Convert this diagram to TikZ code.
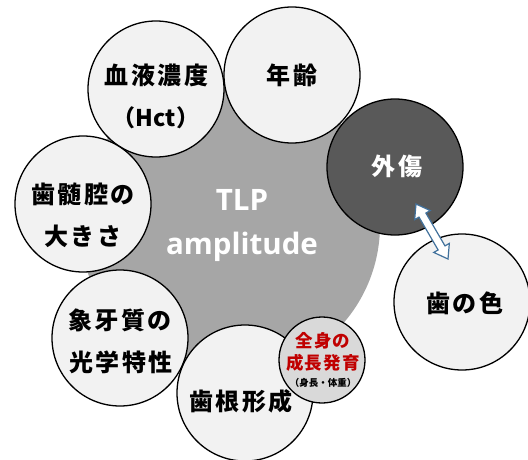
\documentclass[tikz,border=0pt]{standalone}
\usepackage{fontspec}
\usetikzlibrary{calc}
\newfontfamily\jp{Noto Sans CJK JP}[LetterSpace=10]
\newfontfamily\jps{Noto Sans CJK JP}[LetterSpace=6]
\newfontfamily\jpt{Noto Sans CJK JP}
\newfontfamily\lat{Open Sans}
\definecolor{light}{HTML}{F2F2F2}
\definecolor{tlpgray}{HTML}{A6A6A6}
\definecolor{dark}{HTML}{595959}
\definecolor{small}{HTML}{D9D9D9}
\definecolor{jred}{HTML}{C00000}
\definecolor{arrowblue}{HTML}{41719C}
\begin{document}
\begin{tikzpicture}[x=1pt,y=-1pt,
  bub/.style={circle, draw=black, line width=1.3pt, fill=light, minimum size=136pt, inner sep=0pt},
  jtext/.style={font=\jp\bfseries\fontsize{24}{24}\selectfont, inner sep=0pt, text=black},
  stext/.style={font=\jps\bfseries\fontsize{17.5}{17.5}\selectfont, inner sep=0pt, text=jred},
  ttext/.style={font=\lat\bfseries\fontsize{29.5}{29.5}\selectfont, inner sep=0pt, text=white, anchor=base}]
\useasboundingbox (0,0) rectangle (528,459);
% central circle
\node[circle, fill=tlpgray, minimum size=300pt, inner sep=0pt] (tlp) at (230,225) {};
\node[ttext] (tlp1) at (242,210) {TLP};
\node[ttext] (tlp2) at (242,254) {amplitude};
% surrounding circles
\node[bub] (ketsu) at (156,89) {};
\node[jtext] (ketsu1) at (156.5,75) {血液濃度};
\node[jtext, font=\jpt\bfseries\fontsize{23}{23}\selectfont] (ketsu2) at (156,118) {（Hct）};
\node[bub] (nen) at (292,75) {};
\node[jtext] (nen1) at (292,75) {年齢};
\node[bub] (zui) at (83,204) {};
\node[jtext] (zui1) at (83,194) {歯髄腔の};
\node[jtext] (zui2) at (83,236) {大きさ};
\node[bub] (zoge) at (120,338) {};
\node[jtext] (zoge1) at (120,320) {象牙質の};
\node[jtext] (zoge2) at (121,362) {光学特性};
\node[bub] (kon) at (245,393) {};
\node[jtext] (kon1) at (241,401) {歯根形成};
\node[circle, draw=black, line width=1.3pt, fill=small, minimum size=86pt, inner sep=0pt] (sei) at (322,360) {};
\node[stext] (sei1) at (323,341) {全身の};
\node[stext] (sei2) at (323,363) {成長発育};
\node[font=\jpt\bfseries\fontsize{9.5}{9.5}\selectfont, inner sep=0pt] (sei3) at (323,383) {（身長・体重）};
\node[bub, fill=dark] (gai) at (395,167) {};
\node[jtext, text=white] (gai1) at (397,166) {外傷};
\node[bub] (iro) at (462,302) {};
\node[jtext] (iro1) at (465,303) {歯の色};
% double arrow
\coordinate (arrA) at (416,204);
\coordinate (arrB) at (448,259);
\begin{scope}[shift={($(arrA)!0.5!(arrB)$)}, rotate=-59.8]
\draw[arrowblue, fill=white, line width=1.2pt, line join=miter]
  (-31.8,0) -- (-19,9) -- (-19,4) -- (19,4) -- (19,9) -- (31.8,0)
  -- (19,-9) -- (19,-4) -- (-19,-4) -- (-19,-9) -- cycle;
\end{scope}
\end{tikzpicture}
\end{document}
